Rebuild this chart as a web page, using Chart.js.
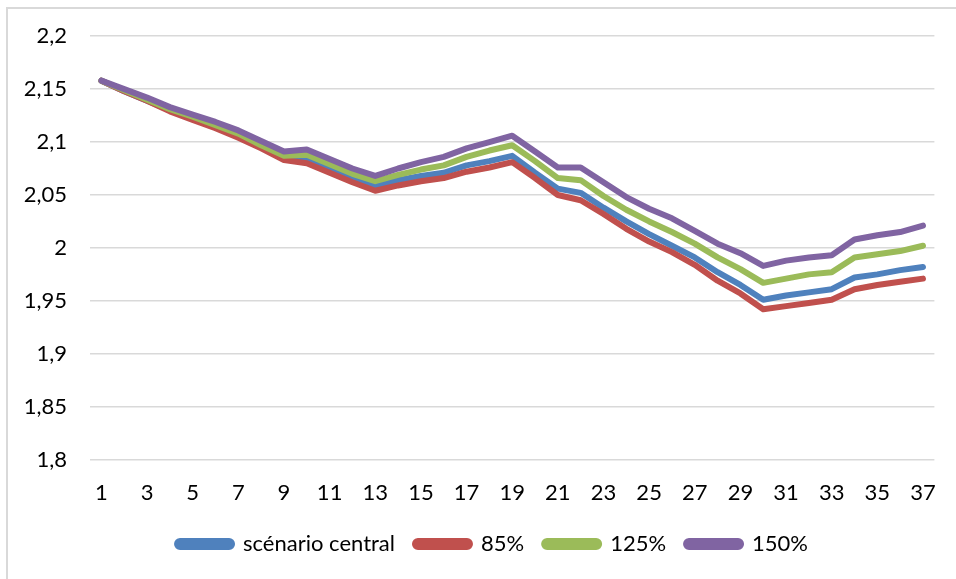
<!DOCTYPE html>
<html lang="fr">
<head>
<meta charset="UTF-8">
<title>Scénarios</title>
<script src="https://cdn.jsdelivr.net/npm/chart.js"></script>
<style>
  html, body { margin: 0; padding: 0; background: #fff; overflow: hidden; }
  #wrap { position: relative; width: 956px; height: 579px; }
  #frame { position: absolute; left: 6px; top: 7px; width: 1200px; height: 900px;
           border-left: 2px solid #d9d9d9; border-top: 2px solid #d9d9d9; }
  canvas { position: absolute; left: 0; top: 0; }
</style>
</head>
<body>
<div id="wrap">
  <div id="frame"></div>
  <canvas id="chart" width="956" height="579"></canvas>
</div>
<script>
// categories on the x axis
const categories = [1, 2, 3, 4, 5, 6, 7, 8, 9, 10, 11, 12, 13, 14, 15, 16, 17, 18, 19,
  20, 21, 22, 23, 24, 25, 26, 27, 28, 29, 30, 31, 32, 33, 34, 35, 36, 37];

// series values
const central = [2.158, 2.148, 2.139, 2.130, 2.122, 2.114, 2.105, 2.095, 2.084, 2.083,
  2.074, 2.065, 2.058, 2.064, 2.068, 2.071, 2.078, 2.082, 2.087, 2.071, 2.056, 2.052,
  2.038, 2.025, 2.013, 2.002, 1.991, 1.977, 1.965, 1.951, 1.955, 1.958, 1.961, 1.972,
  1.975, 1.979, 1.982];
const pct85 = [2.158, 2.148, 2.139, 2.129, 2.121, 2.113, 2.104, 2.094, 2.083, 2.080,
  2.071, 2.062, 2.054, 2.059, 2.063, 2.066, 2.072, 2.076, 2.081, 2.066, 2.050, 2.045,
  2.032, 2.018, 2.006, 1.996, 1.984, 1.969, 1.957, 1.942, 1.945, 1.948, 1.951, 1.961,
  1.965, 1.968, 1.971];
const pct125 = [2.158, 2.149, 2.140, 2.131, 2.124, 2.116, 2.108, 2.097, 2.087, 2.088,
  2.079, 2.070, 2.063, 2.069, 2.074, 2.078, 2.086, 2.092, 2.097, 2.082, 2.066, 2.064,
  2.049, 2.036, 2.025, 2.015, 2.004, 1.991, 1.980, 1.967, 1.971, 1.975, 1.977, 1.991,
  1.994, 1.997, 2.002];
const pct150 = [2.158, 2.150, 2.142, 2.133, 2.126, 2.119, 2.111, 2.101, 2.091, 2.093,
  2.084, 2.075, 2.068, 2.075, 2.081, 2.086, 2.094, 2.100, 2.106, 2.091, 2.076, 2.076,
  2.062, 2.048, 2.037, 2.028, 2.016, 2.004, 1.995, 1.983, 1.988, 1.991, 1.993, 2.008,
  2.012, 2.015, 2.021];

const seriesNames = ["scénario central", "85%", "125%", "150%"];
const seriesColors = ["#4f81bd", "#c0504d", "#9bbb59", "#8064a2"];
const seriesData = [central, pct85, pct125, pct150];

const yMin = 1.8, yMax = 2.2, yStep = 0.05;

const font = { family: "Lato, 'Open Sans', sans-serif", size: 22 };

const datasets = seriesData.map((data, i) => ({
  label: seriesNames[i],
  data: data,
  borderColor: seriesColors[i],
  backgroundColor: seriesColors[i],
  borderWidth: 6,
  borderCapStyle: "round",
  borderJoinStyle: "round",
  pointRadius: 0,
  fill: false,
  tension: 0,
  // later series drawn on top, like the original
  order: seriesData.length - i
}));

// nudge the legend to where the original has it
const legendShift = {
  id: "legendShift",
  afterLayout(chart) {
    const lg = chart.legend;
    if (!lg) return;
    const dx = 24, dy = -13;
    lg.left += dx; lg.right += dx;
    lg.top += dy; lg.bottom += dy;
  }
};

new Chart(document.getElementById("chart").getContext("2d"), {
  type: "line",
  data: { labels: categories, datasets: datasets },
  plugins: [legendShift],
  options: {
    responsive: false,
    animation: false,
    layout: { padding: { left: 0, right: 19, top: 28, bottom: 1 } },
    plugins: {
      tooltip: { enabled: false },
      legend: {
        position: "bottom",
        labels: {
          font: font,
          color: "#000",
          boxWidth: 55,
          boxHeight: 6,
          useBorderRadius: true,
          borderRadius: 3,
          padding: 20,
          sort: (a, b) => a.datasetIndex - b.datasetIndex
        }
      }
    },
    scales: {
      x: {
        offset: true,
        grid: { display: false, drawTicks: false },
        border: { display: false },
        ticks: {
          font: font,
          color: "#000",
          padding: 20,
          autoSkip: false,
          maxRotation: 0,
          callback: function (value, index) {
            return index % 2 === 0 ? this.getLabelForValue(value) : "";
          }
        }
      },
      y: {
        min: yMin,
        max: yMax,
        afterFit: (scale) => { scale.width = 90; },
        grid: { color: "#d9d9d9", lineWidth: 1.5, drawTicks: false },
        border: { display: false },
        ticks: {
          stepSize: yStep,
          font: font,
          color: "#000",
          padding: 23,
          callback: (v) => String(Number(v.toFixed(2))).replace(".", ",")
        }
      }
    }
  }
});
</script>
</body>
</html>
